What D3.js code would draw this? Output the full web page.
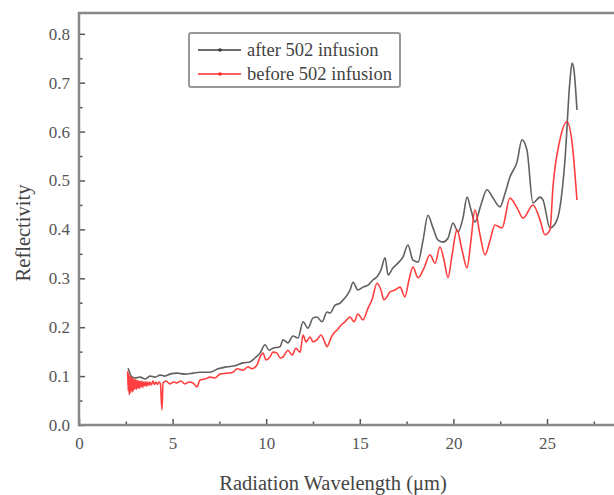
<!DOCTYPE html>
<html>
<head>
<meta charset="utf-8">
<script src="https://cdn.jsdelivr.net/npm/d3@7/dist/d3.min.js"></script>
<style>
  body { margin: 0; background: #fff; }
  text { font-family: "Liberation Serif", "Times New Roman", serif; fill: #444; }
</style>
</head>
<body>
<script>
// wavelength (um) / reflectivity
const afterWl = [2.62, 2.70, 2.78, 2.99, 3.26, 3.53, 3.79, 4.06, 4.33, 4.59, 4.86, 5.24, 5.66, 6.09, 6.46, 7.00, 7.43, 7.91, 8.33, 8.76, 9.13,
  9.40, 9.67, 9.94, 10.15, 10.36, 10.74, 10.90, 11.16, 11.43, 11.70, 11.97, 12.23, 12.50, 12.71, 12.98, 13.25, 13.41, 13.68, 13.94, 14.21,
  14.48, 14.64, 14.90, 15.17, 15.44, 15.71, 15.92, 16.13, 16.35, 16.51, 16.77, 17.04, 17.31, 17.57, 17.84, 18.11, 18.38, 18.64, 18.91, 19.18,
  19.44, 19.71, 19.98, 20.25, 20.51, 20.73, 20.94, 21.15, 21.47, 21.79, 22.12, 22.49, 22.76, 23.02, 23.40, 23.66, 23.93, 24.25, 24.63, 24.79,
  25.16, 25.53, 25.96, 26.23, 26.34, 26.44, 26.60];
const afterR = [0.116, 0.108, 0.100, 0.096, 0.098, 0.094, 0.100, 0.098, 0.102, 0.100, 0.104, 0.106, 0.104, 0.106, 0.108, 0.108, 0.115, 0.119, 0.121, 0.127, 0.129,
  0.137, 0.147, 0.164, 0.153, 0.157, 0.160, 0.174, 0.168, 0.182, 0.178, 0.211, 0.198, 0.219, 0.221, 0.211, 0.231, 0.229, 0.245, 0.249, 0.260,
  0.276, 0.292, 0.276, 0.282, 0.286, 0.297, 0.303, 0.317, 0.342, 0.307, 0.321, 0.331, 0.344, 0.368, 0.337, 0.333, 0.378, 0.429, 0.403, 0.378,
  0.374, 0.382, 0.413, 0.395, 0.423, 0.466, 0.440, 0.415, 0.450, 0.481, 0.464, 0.446, 0.474, 0.507, 0.538, 0.583, 0.562, 0.454, 0.466, 0.460,
  0.403, 0.419, 0.542, 0.706, 0.740, 0.726, 0.644];

const beforeWl = [2.60, 2.63, 2.66, 2.69, 2.72, 2.75, 2.78, 2.81, 2.84, 2.87, 2.90, 2.93, 2.96, 2.99, 3.03, 3.07, 3.11, 3.15, 3.19, 3.23,
  3.27, 3.31, 3.36, 3.41, 3.46, 3.51, 3.56, 3.61, 3.67, 3.73, 3.79, 3.86, 3.95, 4.03, 4.11, 4.19, 4.27, 4.35,
  4.43, 4.49, 4.65, 4.86, 5.07, 5.24, 5.45, 5.66, 5.88, 6.09, 6.30, 6.46, 6.73, 7.00, 7.26, 7.53, 7.91, 8.23, 8.44, 8.76,
  9.03, 9.24, 9.51, 9.67, 9.83, 9.99, 10.20, 10.36, 10.58, 10.74, 10.90, 11.16, 11.38, 11.59, 11.81, 11.97, 12.13, 12.34, 12.50, 12.71,
  12.93, 13.14, 13.25, 13.46, 13.62, 13.78, 14.00, 14.21, 14.48, 14.69, 14.90, 15.17, 15.44, 15.65, 15.92, 16.13, 16.29, 16.45, 16.61, 16.88,
  17.15, 17.41, 17.63, 17.84, 18.11, 18.43, 18.75, 19.02, 19.28, 19.50, 19.71, 19.93, 20.19, 20.46, 20.73, 20.94, 21.15, 21.42, 21.69, 21.96,
  22.22, 22.60, 23.02, 23.40, 23.72, 24.25, 24.63, 24.89, 25.16, 25.32, 25.69, 26.07, 26.34, 26.60];
const beforeR = [0.110, 0.070, 0.104, 0.062, 0.100, 0.066, 0.098, 0.070, 0.096, 0.068, 0.094, 0.072, 0.092, 0.074, 0.093, 0.073, 0.091, 0.076, 0.090, 0.075,
  0.089, 0.078, 0.090, 0.077, 0.088, 0.080, 0.089, 0.079, 0.088, 0.081, 0.088, 0.082, 0.090, 0.083, 0.088, 0.083, 0.088, 0.084,
  0.031, 0.086, 0.090, 0.084, 0.088, 0.086, 0.090, 0.084, 0.088, 0.086, 0.078, 0.092, 0.094, 0.098, 0.096, 0.104, 0.106, 0.108, 0.115, 0.112,
  0.119, 0.115, 0.123, 0.139, 0.147, 0.133, 0.139, 0.149, 0.147, 0.137, 0.139, 0.153, 0.143, 0.157, 0.149, 0.184, 0.170, 0.180, 0.170, 0.174,
  0.184, 0.168, 0.160, 0.178, 0.188, 0.194, 0.204, 0.211, 0.221, 0.211, 0.227, 0.215, 0.239, 0.256, 0.290, 0.276, 0.256, 0.262, 0.272, 0.276,
  0.282, 0.262, 0.297, 0.323, 0.301, 0.321, 0.348, 0.331, 0.364, 0.337, 0.301, 0.348, 0.399, 0.358, 0.321, 0.378, 0.440, 0.389, 0.348, 0.378,
  0.409, 0.403, 0.464, 0.444, 0.423, 0.450, 0.419, 0.389, 0.399, 0.487, 0.583, 0.620, 0.577, 0.460];

const xTicks = [0, 5, 10, 15, 20, 25];
const yTicks = [0.0, 0.1, 0.2, 0.3, 0.4, 0.5, 0.6, 0.7, 0.8];
const seriesNames = ["after 502 infusion", "before 502 infusion"];
const seriesColors = ["#3a3a3a", "#ff2a2a"];

const width = 614, height = 495;
const plotLeft = 79, plotTop = 13, plotBottom = 425;

const x = d3.scaleLinear().domain([0, 29]).range([plotLeft, plotLeft + 18.72 * 29]);
const y = d3.scaleLinear().domain([0, 0.8425]).range([plotBottom, plotTop]);

const svg = d3.select("body").append("svg")
  .attr("width", width)
  .attr("height", height);

const series = [
  afterWl.map((w, i) => ({ w: w, r: afterR[i] })),
  beforeWl.map((w, i) => ({ w: w, r: beforeR[i] }))
];

const line = d3.line().x(d => x(d.w)).y(d => y(d.r)).curve(d3.curveMonotoneX);

svg.append("g").selectAll("path")
  .data(series)
  .enter().append("path")
  .attr("d", d => line(d))
  .attr("fill", "none")
  .attr("stroke", (d, i) => seriesColors[i])
  .attr("stroke-width", 1.6)
  .attr("stroke-opacity", (d, i) => i === 0 ? 0.8 : 0.9)
  .attr("stroke-linejoin", "round");

// axes, ticks pointing inward
const xAxis = d3.axisBottom(x).tickValues(xTicks).tickSize(-6).tickPadding(12).tickFormat(d3.format("d"));
const xMinor = d3.axisBottom(x).tickValues(d3.range(2.5, 29, 5)).tickSize(-3.5).tickFormat("");
const yAxis = d3.axisLeft(y).tickValues(yTicks).tickSize(-6).tickPadding(9).tickFormat(d3.format(".1f"));
const yMinor = d3.axisLeft(y).tickValues(d3.range(0.05, 0.84, 0.1)).tickSize(-3.5).tickFormat("");

function styleAxis(g) {
  g.select(".domain").remove();
  g.selectAll("line").attr("stroke", "#555").attr("stroke-width", 1.5);
  g.selectAll("text").attr("font-size", 17).style("fill", "#555");
}

svg.append("g").attr("transform", `translate(0,${plotBottom})`).call(xAxis).call(styleAxis);
svg.append("g").attr("transform", `translate(0,${plotBottom})`).call(xMinor).call(styleAxis);
svg.append("g").attr("transform", `translate(${plotLeft},0)`).call(yAxis).call(styleAxis);
svg.append("g").attr("transform", `translate(${plotLeft},0)`).call(yMinor).call(styleAxis);

// frame (right side falls outside the window)
svg.append("rect")
  .attr("x", plotLeft).attr("y", plotTop)
  .attr("width", x.range()[1] - plotLeft).attr("height", plotBottom - plotTop)
  .attr("fill", "none").attr("stroke", "#888").attr("stroke-width", 2.5);

svg.append("text")
  .attr("x", 333).attr("y", 490)
  .attr("text-anchor", "middle")
  .attr("font-size", 20.5)
  .text("Radiation Wavelength (\u03bcm)");

svg.append("text")
  .attr("transform", "translate(30,233) rotate(-90)")
  .attr("text-anchor", "middle")
  .attr("font-size", 20.5)
  .text("Reflectivity");

// legend
const legend = svg.append("g");
legend.append("rect")
  .attr("x", 189).attr("y", 33).attr("width", 211).attr("height", 54)
  .attr("fill", "#fff").attr("stroke", "#999").attr("stroke-width", 2).attr("rx", 2);

const rows = legend.selectAll("g.row")
  .data(seriesNames)
  .enter().append("g")
  .attr("class", "row")
  .attr("transform", (d, i) => `translate(0,${50 + i * 24})`);

rows.append("line")
  .attr("x1", 198).attr("x2", 241)
  .attr("stroke", (d, i) => seriesColors[i]).attr("stroke-width", 1.3);
rows.append("circle")
  .attr("cx", 220).attr("r", 1.8)
  .attr("fill", (d, i) => seriesColors[i]);
rows.append("text")
  .attr("x", 247).attr("y", 6)
  .attr("font-size", 18.5)
  .text(d => d);
</script>
</body>
</html>
